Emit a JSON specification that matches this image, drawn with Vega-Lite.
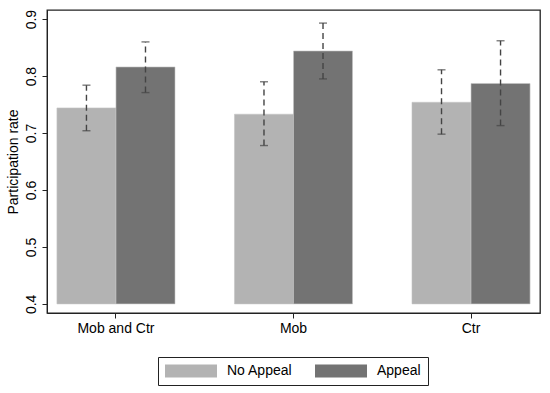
{
  "$schema": "https://vega.github.io/schema/vega-lite/v6.json",
  "width": 493,
  "height": 303,
  "autosize": {"type": "none"},
  "padding": {"left": 47, "top": 10, "right": 10, "bottom": 80},
  "background": "white",
  "config": {
    "font": "Liberation Sans",
    "view": {"stroke": "#222", "strokeWidth": 1.3},
    "axis": {"grid": false, "domainColor": "#222", "tickColor": "#222", "labelColor": "#000", "titleColor": "#000", "labelFontSize": 14, "titleFontSize": 14, "titleFontWeight": "normal", "tickSize": 5}
  },
  "data": {
    "values": [
      {"group": "Mob and Ctr", "cond": "No Appeal", "rate": 0.744, "lo": 0.704, "hi": 0.784},
      {"group": "Mob and Ctr", "cond": "Appeal", "rate": 0.816, "lo": 0.771, "hi": 0.860},
      {"group": "Mob", "cond": "No Appeal", "rate": 0.733, "lo": 0.678, "hi": 0.790},
      {"group": "Mob", "cond": "Appeal", "rate": 0.844, "lo": 0.795, "hi": 0.893},
      {"group": "Ctr", "cond": "No Appeal", "rate": 0.754, "lo": 0.698, "hi": 0.811},
      {"group": "Ctr", "cond": "Appeal", "rate": 0.787, "lo": 0.713, "hi": 0.862}
    ]
  },
  "encoding": {
    "x": {
      "field": "group", "type": "nominal", "sort": ["Mob and Ctr", "Mob", "Ctr"],
      "scale": {"paddingInner": 0.335, "paddingOuter": 0.056},
      "axis": {"title": null, "labelAngle": 0, "labelPadding": 3}
    },
    "xOffset": {
      "field": "cond", "type": "nominal", "sort": ["No Appeal", "Appeal"],
      "scale": {"paddingInner": 0, "paddingOuter": 0}
    }
  },
  "layer": [
    {
      "mark": {"type": "bar", "stroke": "#c4c4c4", "strokeWidth": 0.6},
      "encoding": {
        "y": {
          "field": "rate", "type": "quantitative",
          "scale": {"domain": [0.384, 0.916], "nice": false, "zero": false},
          "axis": {"title": "Participation rate", "values": [0.4, 0.5, 0.6, 0.7, 0.8, 0.9], "format": ".1f", "labelAngle": 270, "labelPadding": 4, "titlePadding": 4}
        },
        "y2": {"datum": 0.4},
        "color": {
          "field": "cond", "type": "nominal",
          "scale": {"domain": ["No Appeal", "Appeal"], "range": ["#b3b3b3", "#737373"]},
          "legend": {
            "title": null, "orient": "none", "direction": "horizontal",
            "legendX": 111, "legendY": 347,
            "strokeColor": "#222", "padding": 7,
            "symbolType": "M-1,-0.93L6.43,-0.93L6.43,0.93L-1,0.93Z", "symbolSize": 196,
            "symbolStrokeWidth": 0, "symbolOpacity": 1,
            "labelFontSize": 14, "labelColor": "#000", "labelOffset": 48, "columnPadding": 22
          }
        }
      }
    },
    {
      "mark": {"type": "rule", "strokeDash": [6, 4], "color": "#444", "strokeWidth": 1.4},
      "encoding": {
        "y": {"field": "lo", "type": "quantitative"},
        "y2": {"field": "hi"}
      }
    },
    {
      "mark": {"type": "tick", "color": "#444", "size": 8, "thickness": 1.4},
      "encoding": {"y": {"field": "lo", "type": "quantitative"}}
    },
    {
      "mark": {"type": "tick", "color": "#444", "size": 8, "thickness": 1.4},
      "encoding": {"y": {"field": "hi", "type": "quantitative"}}
    }
  ]
}
